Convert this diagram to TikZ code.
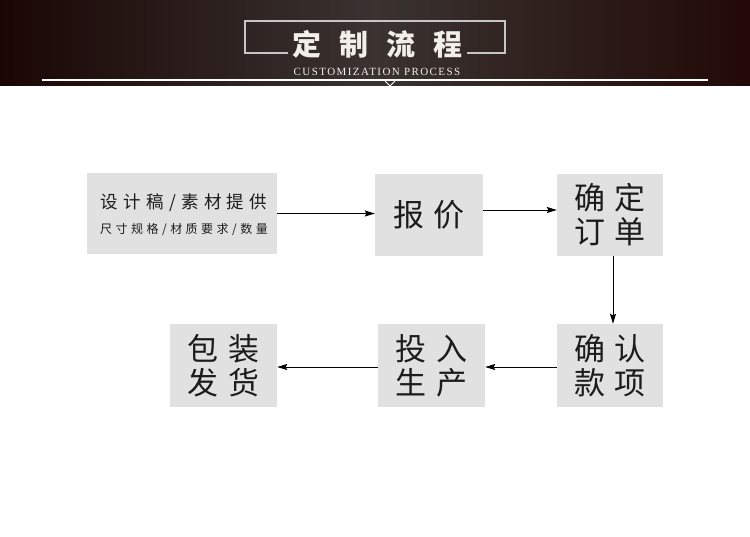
\documentclass[tikz,border=0pt]{standalone}
\usepackage{fontspec}
\setmainfont{Liberation Serif}
\newfontfamily\cjk{Noto Sans CJK SC}
\usetikzlibrary{arrows.meta}
\definecolor{hdrL}{RGB}{26,6,5}
\definecolor{hdrM}{RGB}{58,51,48}
\definecolor{hdrR}{RGB}{34,9,7}
\definecolor{framegray}{RGB}{200,198,196}
\definecolor{titlecol}{RGB}{242,238,234}
\definecolor{boxgray}{RGB}{225,225,225}
\definecolor{txt}{RGB}{28,28,28}
\tikzset{
  flowbox/.style={fill=boxgray, draw=none, inner sep=0pt, text=txt, align=center,
    font=\cjk\fontsize{31}{34}\selectfont},
  arr/.style={draw=black, line width=1pt, -{Stealth[length=10pt,width=6pt,inset=1.5pt]}},
}
\begin{document}
\begin{tikzpicture}[x=1pt,y=-1pt]
\useasboundingbox (0,0) rectangle (750,536);
\fill[white] (0,0) rectangle (750,536);
% header
\fill[left color=hdrL, right color=hdrR, middle color=hdrM] (0,0) rectangle (750,85);
\draw[white, line width=1.2pt] (42,80) -- (708,80);
\draw[white, line width=0.8pt] (385,81) -- (390,86) -- (395,81);
\draw[framegray, line width=1.3pt] (288,53) -- (245,53) -- (245,21) -- (505,21) -- (505,53) -- (467,53);
\node[text=titlecol, font=\cjk\bfseries\fontsize{29}{30}\selectfont, inner sep=0pt] (title) at (377.5,44)
  {定\hspace{18pt}制\hspace{18pt}流\hspace{18pt}程};
\node[text=titlecol, font=\fontsize{11}{12}\selectfont\addfontfeature{LetterSpace=13}, inner sep=0pt] (subtitle) at (377,72)
  {CUSTOMIZATION PROCESS};
% boxes
\node[flowbox, minimum width=190pt, minimum height=81pt] (b1) at (182,213.5) {};
\node[text=txt, font=\cjk\fontsize{17.5}{20}\selectfont\addfontfeature{LetterSpace=30}, inner sep=0pt] (b1a) at (184,203)
  {设计稿/素材提供};
\node[text=txt, font=\cjk\fontsize{12}{14}\selectfont\addfontfeature{LetterSpace=29}, inner sep=0pt] (b1b) at (184,230)
  {尺寸规格/材质要求/数量};
\node[flowbox, minimum width=108pt, minimum height=82pt] (b2) at (429,215) {报\hspace{10pt}价};
\node[flowbox, minimum width=106pt, minimum height=82pt] (b3) at (610,215) {确\hspace{10pt}定\\订\hspace{10pt}单};
\node[flowbox, minimum width=106pt, minimum height=83pt] (b4) at (610,365.5) {确\hspace{10pt}认\\款\hspace{10pt}项};
\node[flowbox, minimum width=107pt, minimum height=83pt] (b5) at (431.5,365.5) {投\hspace{10pt}入\\生\hspace{10pt}产};
\node[flowbox, minimum width=107pt, minimum height=83pt] (b6) at (223.5,365.5) {包\hspace{10pt}装\\发\hspace{10pt}货};
% arrows
\draw[arr] (b1.east) -- (b1.east -| b2.west);
\draw[arr] ([yshift=5pt]b2.east) -- ([yshift=5pt]b3.west);
\draw[arr] ([xshift=3pt]b3.south) -- ([xshift=3pt]b4.north);
\draw[arr] ([yshift=-1.5pt]b4.west) -- ([yshift=-1.5pt]b5.east);
\draw[arr] ([yshift=-1.5pt]b5.west) -- ([yshift=-1.5pt]b6.east);
\end{tikzpicture}
\end{document}
